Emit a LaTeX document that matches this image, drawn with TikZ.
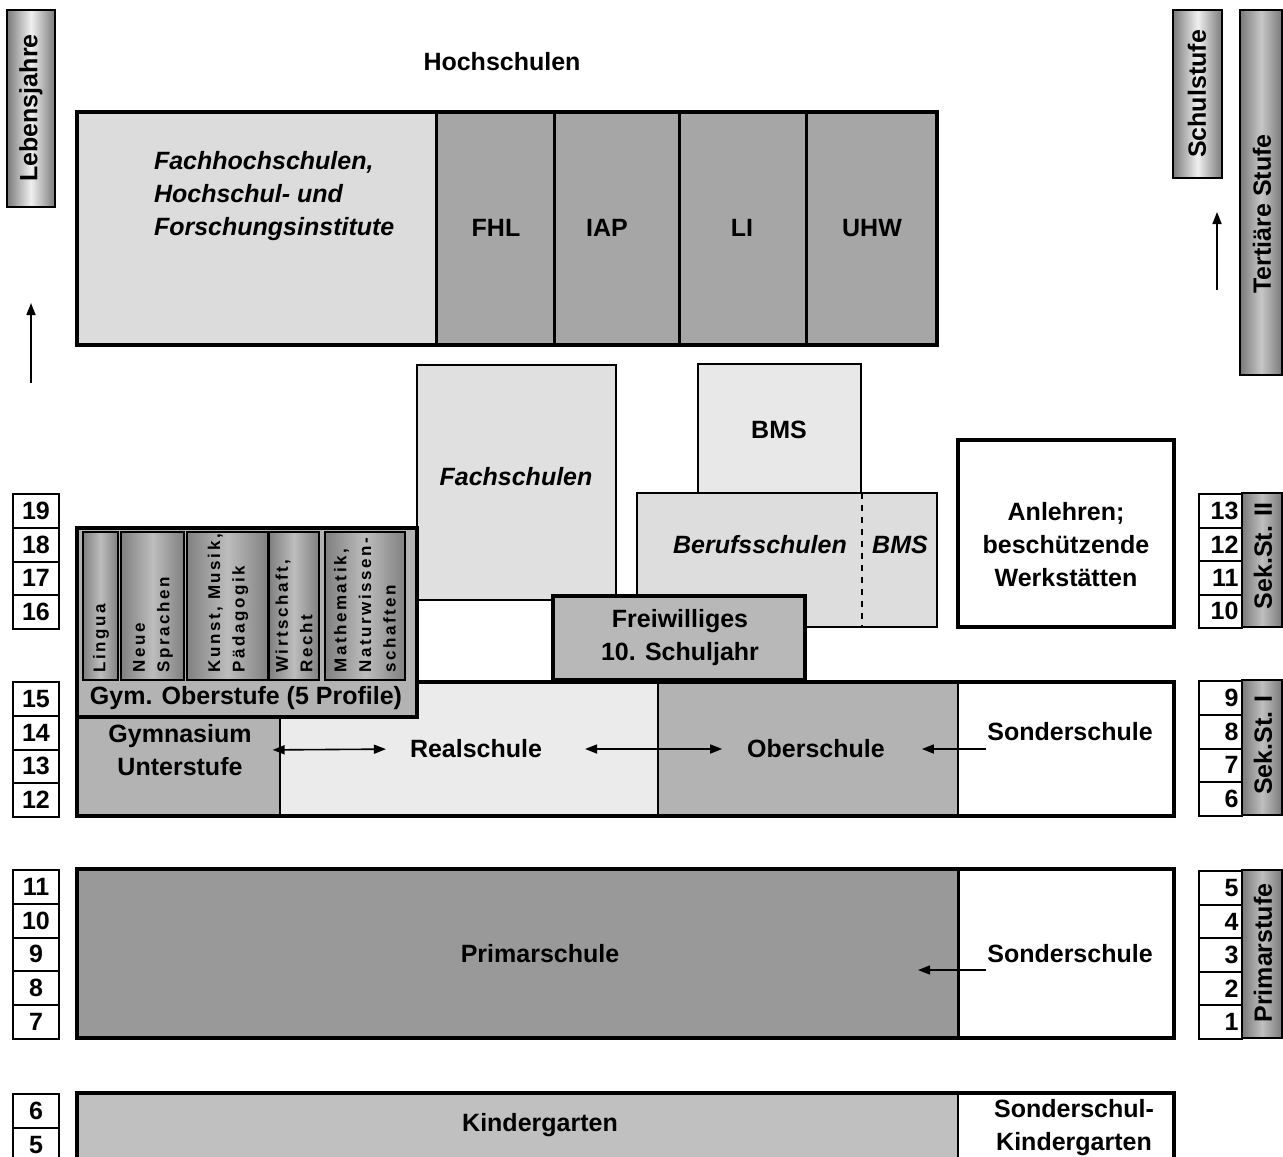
\documentclass[tikz,border=0pt]{standalone}
\usepackage{fontspec}
\setmainfont{Liberation Sans}
\newfontfamily\profilefont[LetterSpace=15]{Liberation Sans}
\usetikzlibrary{arrows.meta}
\definecolor{hsLight}{HTML}{DCDCDC}
\definecolor{hsDark}{HTML}{A6A6A6}
\definecolor{fsGrey}{HTML}{E0E0E0}
\definecolor{bmsGrey}{HTML}{E8E8E8}
\definecolor{bsGrey}{HTML}{DDDDDD}
\definecolor{fwGrey}{HTML}{B8B8B8}
\definecolor{gymGrey}{HTML}{B3B3B3}
\definecolor{realGrey}{HTML}{EBEBEB}
\definecolor{primGrey}{HTML}{999999}
\definecolor{kgGrey}{HTML}{C0C0C0}
\definecolor{barEdge}{HTML}{7A7A7A}
\definecolor{profEdge}{HTML}{808080}
\definecolor{profMid}{HTML}{BDBDBD}

\begin{document}
\begin{tikzpicture}[x=0.5pt, y=-0.5pt, font=\bfseries\fontsize{12.5}{16.5}\selectfont,
  thickbox/.style={line width=2.3pt},
  thinbox/.style={line width=0.8pt},
  itlabel/.style={font=\bfseries\itshape\fontsize{12.5}{16.5}\selectfont},
  agebox/.style={draw, line width=1pt, fill=white, minimum width=23pt, minimum height=16.875pt, inner sep=0pt, anchor=north},
  gradebox/.style={draw, line width=1pt, fill=white, minimum width=21.5pt, minimum height=16.875pt, inner sep=0pt, anchor=north, text width=18pt, align=right},
  sidebar/.style={draw, line width=0.8pt, left color=barEdge, right color=barEdge, middle color=#1},
  sidebar/.default={black!6},
  profbar/.style={draw, line width=0.6pt, left color=profEdge, right color=profEdge, middle color=profMid},
  proftext/.style={rotate=90, anchor=west, align=left, inner sep=0pt, font=\profilefont\bfseries\fontsize{8.5}{12.3}\selectfont},
  arr/.style={line width=0.8pt, -{Triangle[length=6pt,width=4.5pt]}},
  darr/.style={line width=0.8pt, {Triangle[length=6pt,width=4.5pt]}-{Triangle[length=6pt,width=4.5pt]}}]
\useasboundingbox (0,0) rectangle (1283,1156);

% side labels
\draw[sidebar] (7,10) rectangle (55,207); \node[rotate=90] (lebensjahre) at (31,108) {Lebensjahre};
\coordinate (lbFoot) at (31,383); \coordinate (lbHead) at (31,303); \draw[arr] (lbFoot) -- (lbHead);
\draw[sidebar] (1173,10) rectangle (1222,178); \node[rotate=90] (schulstufe) at (1197,94) {Schulstufe};
\coordinate (ssFoot) at (1217,290); \coordinate (ssHead) at (1217,212); \draw[arr] (ssFoot) -- (ssHead);
\draw[sidebar=black!22] (1240,10) rectangle (1282,375); \node[rotate=90] (tertiaer) at (1262,214) {Tertiäre Stufe};

% Hochschulen
\node (hs) at (502,62) {Hochschulen};
\fill[hsLight] (77,112) rectangle (436,345); \fill[hsDark] (436,112) rectangle (937,345);
\foreach \x in {436,554,679,806} \draw[line width=1.5pt] (\x,112) -- (\x,345);
\draw[thickbox] (77,112) rectangle (937,345);
\node[itlabel, anchor=west, align=left] (fhs) at (147,196) {Fachhochschulen,\\Hochschul- und\\Forschungsinstitute};
\node (fhl) at (496,228) {FHL}; \node (iap) at (607,228) {IAP}; \node (li) at (742,228) {LI}; \node (uhw) at (872,228) {UHW};

% Sekundarstufe II
\draw[thinbox, fill=fsGrey] (417,365) rectangle (616,600); \node[itlabel] (fs) at (516,477) {Fachschulen};
\draw[thinbox, fill=bmsGrey] (698,364) rectangle (861,493); \node (bms) at (779,430) {BMS};
\draw[thinbox, fill=bsGrey] (637,493) rectangle (937,627); \draw[thinbox, dashed] (862,493) -- (862,627);
\node[itlabel] (bs) at (760,545) {Berufsschulen}; \node[itlabel] (bmsb) at (900,545) {BMS};
\draw[thickbox, fill=white] (958,440) rectangle (1174,627);
\node[align=center] (anl) at (1066,545) {Anlehren;\\beschützende\\Werkstätten};

% Sekundarstufe I
\fill[gymGrey] (77,682) rectangle (280,816); \fill[realGrey] (280,682) rectangle (658,816);
\fill[gymGrey] (658,682) rectangle (958,816); \fill[white] (958,682) rectangle (1174,816);
\draw[line width=1.2pt] (280,717) -- (280,816) (658,682) -- (658,816) (958,682) -- (958,816);
\draw[thickbox] (77,682) rectangle (1174,816);
\node[align=center] (gymU) at (180,750) {Gymnasium\\Unterstufe};
\node (real) at (476,749) {Realschule}; \node (ober) at (816,749) {Oberschule};
\node (sonI) at (1070,732) {Sonderschule};
\draw[darr, shorten <=7pt, shorten >=8.5pt] (gymU.east) -- (real.west);
\draw[darr, shorten <=18pt, shorten >=9pt] (real.east) -- (ober.west);
\draw[arr, shorten <=-3pt, shorten >=15pt] (ober.east -| sonI.west) -- (ober.east);

% Gymnasium Oberstufe
\draw[thickbox, fill=gymGrey] (77,528) rectangle (417,717);
\draw[profbar] (83,532) rectangle (118,680); \draw[profbar] (121,532) rectangle (184,680);
\draw[profbar] (187,532) rectangle (268,680); \draw[profbar] (269,532) rectangle (319,680);
\draw[profbar] (325,532) rectangle (405,680);
\node[proftext] (lingua) at (101,673) {Lingua};
\node[proftext] (neue) at (153,673) {Neue\\Sprachen};
\node[proftext] (kunst) at (228,673) {Kunst, Musik,\\Pädagogik};
\node[proftext] (wirt) at (294,673) {Wirtschaft,\\Recht};
\node[proftext] (mathe) at (365,673) {Mathematik,\\Naturwissen-\\schaften};
\node (gymO) at (246,698) {Gym. Oberstufe (5 Profile)};

\draw[thickbox, fill=fwGrey] (553,596) rectangle (805,680);
\node[align=center] (fw) at (680,638) {Freiwilliges\\10. Schuljahr};

% Primarstufe
\fill[primGrey] (77,869) rectangle (958,1038); \fill[white] (958,869) rectangle (1174,1038);
\draw[line width=1.5pt] (958,869) -- (958,1038); \draw[thickbox] (77,869) rectangle (1174,1038);
\node (prim) at (540,954) {Primarschule}; \node (sonP) at (1070,954) {Sonderschule};
\coordinate (primIn) at (918,970); \draw[arr, shorten <=-3pt] (primIn -| sonP.west) -- (primIn);

% Kindergarten
\fill[kgGrey] (77,1093) rectangle (958,1165); \fill[white] (958,1093) rectangle (1174,1165);
\draw[line width=0.8pt] (958,1093) -- (958,1165); \draw[thickbox] (77,1093) rectangle (1174,1165);
\node (kg) at (540,1125) {Kindergarten};
\node[align=center] (skg) at (1074,1128) {Sonderschul-\\Kindergarten};

% Lebensjahre
\foreach \n [count=\i from 0] in {19,18,17,16} \node[agebox] (age\n) at (36,493+\i*33.75) {\n};
\foreach \n [count=\i from 0] in {15,14,13,12} \node[agebox] (age\n) at (36,681+\i*33.75) {\n};
\foreach \n [count=\i from 0] in {11,10,9,8,7} \node[agebox] (age\n) at (36,869+\i*33.75) {\n};
\foreach \n [count=\i from 0] in {6,5} \node[agebox] (age\n) at (36,1093+\i*33.75) {\n};

% Schulstufen
\draw[sidebar=black!25] (1242,493) rectangle (1282,627); \node[rotate=90] (sek2) at (1263,556) {Sek.St. II};
\draw[sidebar=black!25] (1242,680) rectangle (1282,815); \node[rotate=90] (sek1) at (1263,745) {Sek.St. I};
\draw[sidebar=black!25] (1242,870) rectangle (1282,1038); \node[rotate=90] (primst) at (1263,953) {Primarstufe};
\foreach \n [count=\i from 0] in {13,12,11,10} \node[gradebox] (grade\n) at (1220.5,493+\i*33.5) {\n};
\foreach \n [count=\i from 0] in {9,8,7,6} \node[gradebox] (grade\n) at (1220.5,680+\i*33.75) {\n};
\foreach \n [count=\i from 0] in {5,4,3,2,1} \node[gradebox] (grade\n) at (1220.5,870+\i*33.6) {\n};
\end{tikzpicture}
\end{document}
